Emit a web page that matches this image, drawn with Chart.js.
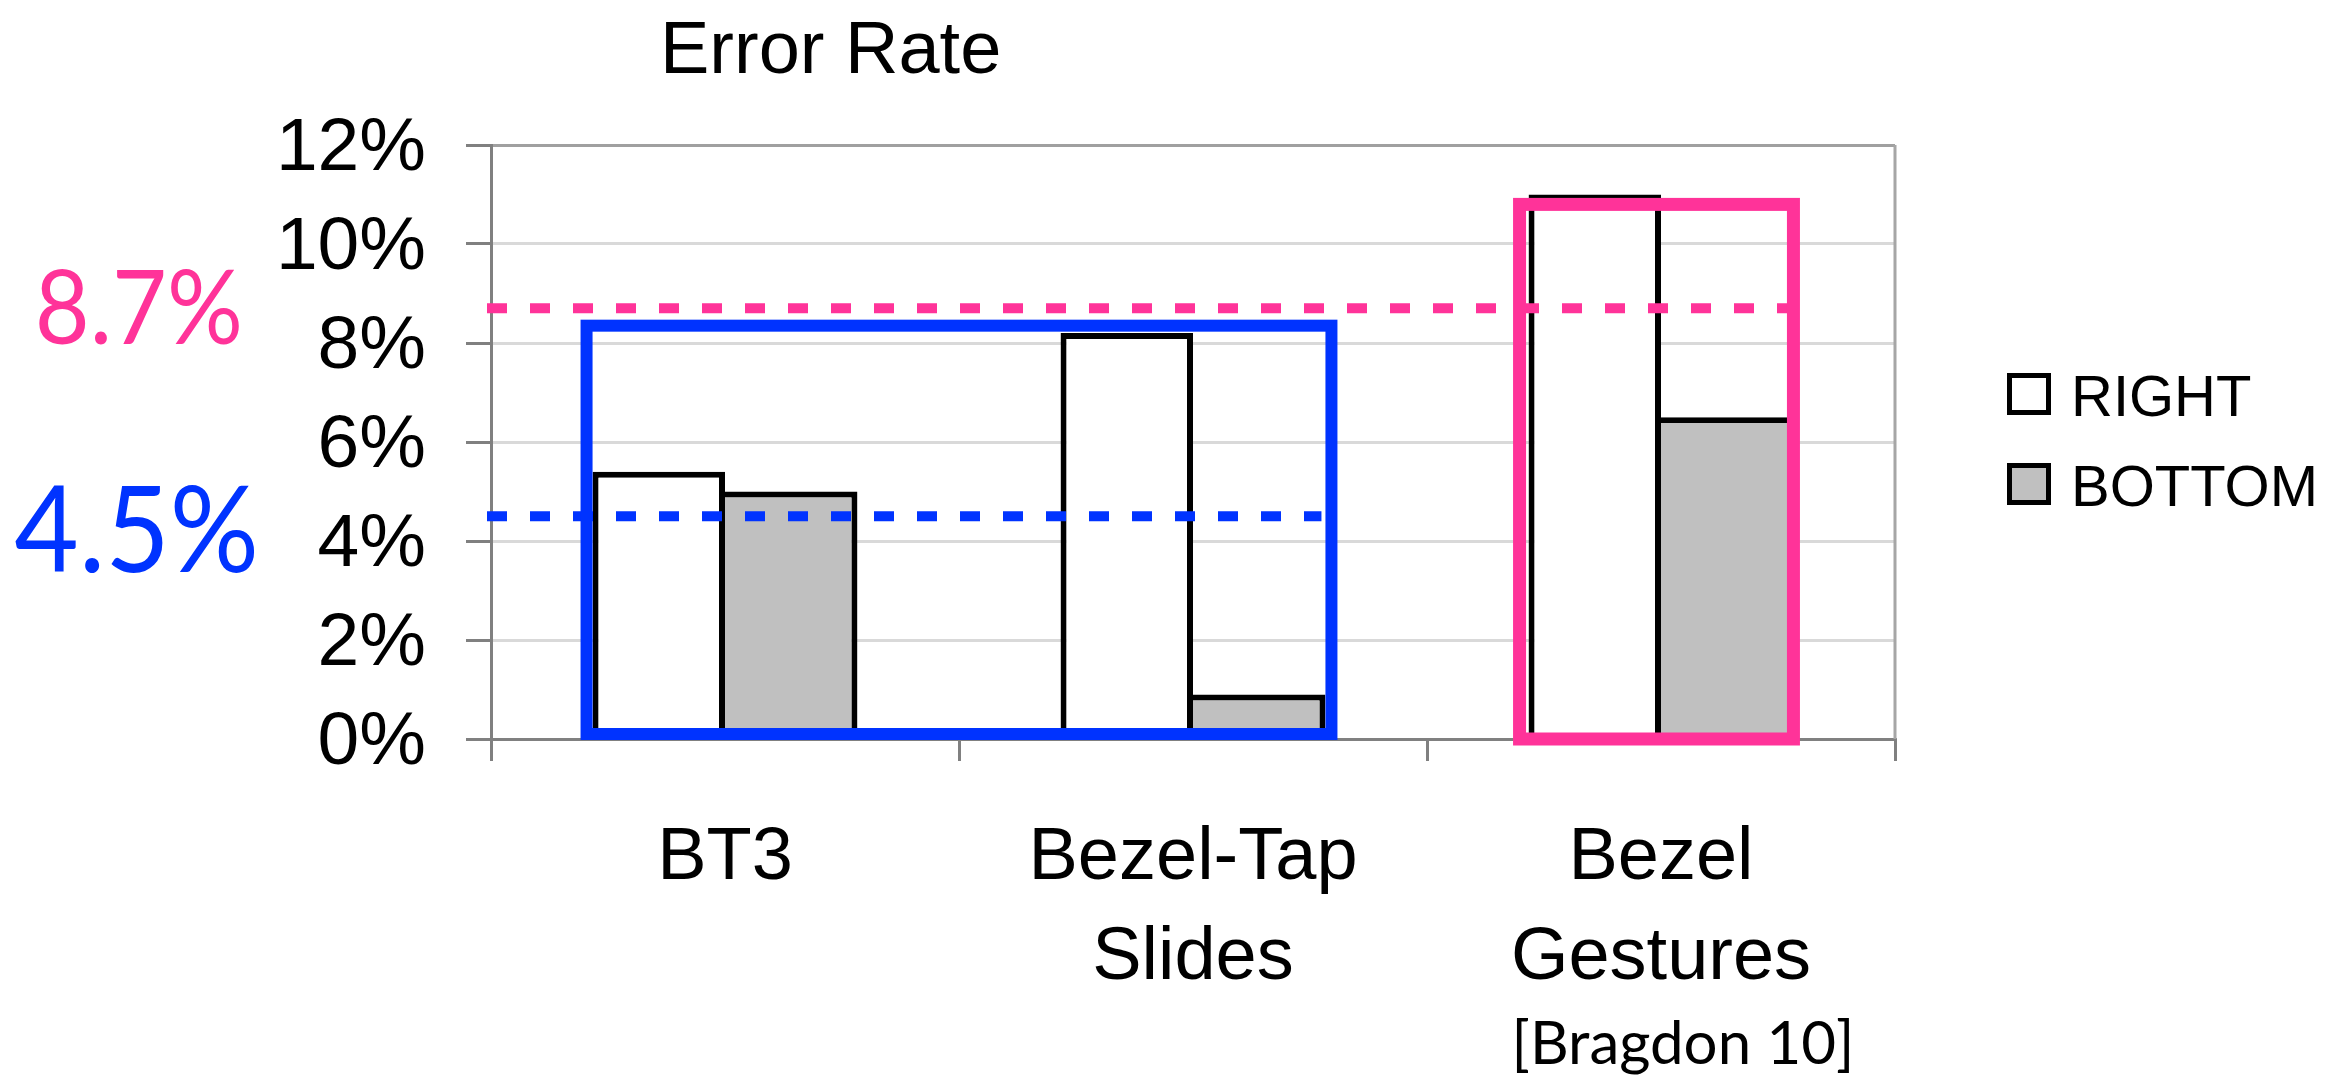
<!DOCTYPE html>
<html>
<head>
<meta charset="utf-8">
<title>Error Rate</title>
<script src="https://cdn.jsdelivr.net/npm/chart.js@4.4.1/dist/chart.umd.min.js"></script>
<style>
  html, body { margin: 0; padding: 0; background: #fff; }
  #errorRateChart { display: block; }
</style>
</head>
<body>
<canvas id="errorRateChart" width="2344" height="1078"></canvas>
<script>
// techniques on the x axis, error rate per bezel edge
const categories = [['BT3'], ['Bezel-Tap', 'Slides'], ['Bezel', 'Gestures']];
const rightRates = [5.4, 8.2, 11.0];
const bottomRates = [5.0, 0.9, 6.5];
const yTickValues = [0, 2, 4, 6, 8, 10, 12];

// highlighted groups: average line + box around the group's bars
const groupAverages = [4.5, 8.7];
const groupFirst = [0, 2];
const groupLast = [1, 2];
const groupBoxTops = [8.35, 10.8];

const groupStyle = [
  { color: '#0033ff', padL: 6, padR: 6, boxLift: 5, boxWidth: 12, textSize: 121, textRight: 259, textShift: 56 },
  { color: '#ff3399', padL: 9, padR: 0, boxLift: 0, boxWidth: 13, textSize: 103, textRight: 243, textShift: 36 }
];

const SANS = '"Liberation Sans", Arial, sans-serif';
const HUMANIST = 'Lato, "Open Sans", sans-serif';

Chart.defaults.font.family = SANS;
Chart.defaults.color = '#000';

// narrow humanist text, right-aligned at x
function drawNarrow(ctx, text, x, y, squeeze) {
  ctx.save();
  ctx.translate(x, y);
  ctx.scale(squeeze, 1);
  ctx.fillText(text, 0, 0);
  ctx.restore();
}

const plotFrame = {
  id: 'plotFrame',
  beforeDatasetsDraw(chart) {
    const { ctx, chartArea } = chart;
    ctx.save();
    ctx.strokeStyle = '#a6a6a6';
    ctx.lineWidth = 3;
    ctx.beginPath();
    ctx.moveTo(chartArea.right, chartArea.top);
    ctx.lineTo(chartArea.right, chartArea.bottom);
    ctx.stroke();
    ctx.restore();
  }
};

const groupMarks = {
  id: 'groupMarks',
  afterDatasetsDraw(chart) {
    const { ctx, chartArea, scales: { y } } = chart;
    const rightBars = chart.getDatasetMeta(0).data;
    const bottomBars = chart.getDatasetMeta(1).data;

    groupAverages.forEach((avg, i) => {
      const st = groupStyle[i];
      const a = rightBars[groupFirst[i]];
      const b = bottomBars[groupLast[i]];
      const left = a.x - a.width / 2;
      const right = b.x + b.width / 2;
      const yAvg = y.getPixelForValue(avg);

      ctx.save();
      // dashed average line
      ctx.strokeStyle = st.color;
      ctx.lineWidth = 10;
      ctx.setLineDash([20, 23]);
      ctx.beginPath();
      ctx.moveTo(chartArea.left - 4, yAvg);
      ctx.lineTo(right - 4, yAvg);
      ctx.stroke();

      // box around the group
      ctx.setLineDash([]);
      ctx.lineWidth = st.boxWidth;
      const top = y.getPixelForValue(groupBoxTops[i]);
      const bottom = y.getPixelForValue(0) - st.boxLift;
      ctx.strokeRect(left - st.padL, top, right - left + st.padL + st.padR, bottom - top);

      // average value on the left
      ctx.fillStyle = st.color;
      ctx.font = st.textSize + 'px ' + HUMANIST;
      ctx.textAlign = 'right';
      ctx.textBaseline = 'alphabetic';
      drawNarrow(ctx, avg.toFixed(1) + '%', st.textRight, yAvg + st.textShift, 0.92);
      ctx.restore();
    });
  },
  afterDraw(chart) {
    const { ctx } = chart;
    ctx.save();
    ctx.fillStyle = '#000';

    // title
    ctx.font = '74px ' + SANS;
    ctx.textAlign = 'left';
    ctx.textBaseline = 'alphabetic';
    ctx.fillText('Error Rate', 660, 73);

    // legend
    ctx.font = '58px ' + SANS;
    chart.data.datasets.forEach((ds, i) => {
      const top = 373 + i * 90;
      ctx.fillStyle = ds.backgroundColor;
      ctx.fillRect(2007, top, 44, 42);
      ctx.strokeStyle = '#000';
      ctx.lineWidth = 5;
      ctx.strokeRect(2009.5, top + 2.5, 39, 37);
      ctx.fillStyle = '#000';
      ctx.fillText(ds.label, 2071, top + 43);
    });

    // source
    ctx.font = '60px ' + HUMANIST;
    ctx.textAlign = 'center';
    ctx.fillText('[Bragdon 10]', 1683, 1064);
    ctx.restore();
  }
};

new Chart(document.getElementById('errorRateChart'), {
  type: 'bar',
  data: {
    labels: categories,
    datasets: [{
      label: 'RIGHT',
      data: rightRates,
      backgroundColor: '#ffffff',
      borderColor: '#000000',
      borderWidth: { top: 6, left: 6, right: 6, bottom: 0 }
    }, {
      label: 'BOTTOM',
      data: bottomRates,
      backgroundColor: '#c0c0c0',
      borderColor: '#000000',
      borderWidth: { top: 6, left: 0, right: 6, bottom: 0 }
    }]
  },
  options: {
    responsive: false,
    devicePixelRatio: 1,
    animation: false,
    categoryPercentage: 0.566,
    barPercentage: 1.0,
    layout: { padding: { top: 145, right: 449, bottom: 0, left: 0 } },
    plugins: {
      legend: { display: false },
      title: { display: false },
      tooltip: { enabled: false }
    },
    scales: {
      x: {
        ticks: {
          font: { size: 74, lineHeight: 1.36 },
          padding: 47,
          maxRotation: 0,
          autoSkip: false
        },
        grid: {
          offset: true,
          color: 'transparent',
          tickColor: '#808080',
          tickLength: 22,
          lineWidth: 3
        },
        border: { color: '#808080', width: 3 },
        afterFit: (scale) => { scale.height = 339; }
      },
      y: {
        min: 0,
        max: 12,
        ticks: {
          font: { size: 75 },
          padding: 40,
          labelOffset: 4,
          callback: (v) => v + '%'
        },
        afterBuildTicks: (scale) => {
          scale.ticks = yTickValues.map((v) => ({ value: v }));
        },
        grid: {
          color: (c) => (c.tick && c.tick.value === 12 ? '#a0a0a0' : '#d9d9d9'),
          lineWidth: 3,
          tickLength: 25,
          tickColor: '#808080',
          tickWidth: 3
        },
        border: { color: '#808080', width: 3 },
        afterFit: (scale) => { scale.width = 491; }
      }
    }
  },
  plugins: [plotFrame, groupMarks]
});
</script>
</body>
</html>
